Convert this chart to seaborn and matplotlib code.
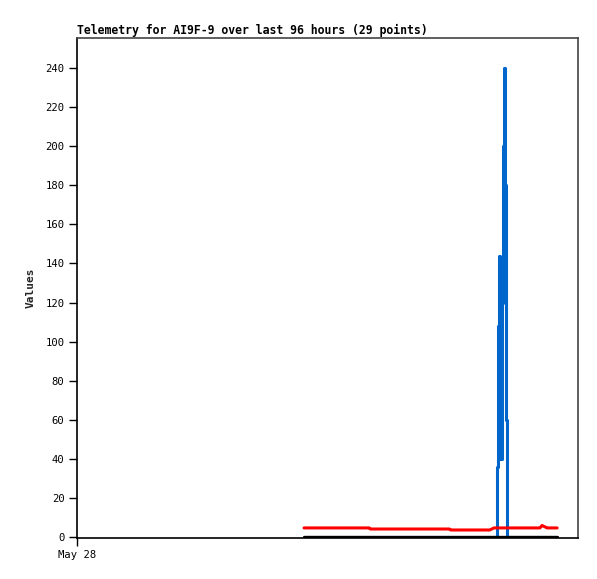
import matplotlib
matplotlib.use("Agg")
import matplotlib.pyplot as plt
import seaborn as sns
import pandas as pd

# hours since May 28 00:00
red_hours = [43.5, 56.0, 56.2, 71.4, 71.6, 79.1, 79.9, 88.7, 89.1, 89.5, 90.1, 92.0]
red_vals = [4.75, 4.75, 4.2, 4.2, 3.7, 3.7, 4.75, 4.75, 6.0, 5.5, 4.75, 4.75]

blue_hours = [43.5, 80.45, 80.65, 80.85, 81.1, 81.4, 81.6, 81.75, 81.95, 82.25, 82.45, 92.0]
blue_vals = [0, 36, 108, 144, 40, 120, 200, 240, 180, 60, 0, 0]

black_hours = [43.5, 92.0]
black_vals = [0, 0]

yticks = list(range(0, 241, 20))
xtick_labels = ["May 28"]

blue_df = pd.DataFrame({"hours": blue_hours, "value": blue_vals})
red_df = pd.DataFrame({"hours": red_hours, "value": red_vals})
black_df = pd.DataFrame({"hours": black_hours, "value": black_vals})

sns.set_style("white")
plt.rcParams["font.family"] = ["DejaVu Sans Mono", "DejaVu Sans"]
plt.rcParams["text.color"] = "black"
plt.rcParams["xtick.color"] = "black"
plt.rcParams["ytick.color"] = "black"

fig = plt.figure(figsize=(5.97, 5.79), dpi=100)
ax = fig.add_axes([77 / 597, 41 / 579, 501 / 597, 500 / 579])

sns.lineplot(data=blue_df, x="hours", y="value", color="#0066cc", linewidth=2.2,
             drawstyle="steps-post", estimator=None, sort=False, ax=ax)
sns.lineplot(data=red_df, x="hours", y="value", color="#ff0000", linewidth=2.2,
             estimator=None, sort=False, ax=ax)
sns.lineplot(data=black_df, x="hours", y="value", color="#000000", linewidth=2.4,
             estimator=None, sort=False, ax=ax, zorder=5)

ax.set_xlim(0, 96)
ax.set_ylim(-0.4, 255.3)
ax.set_yticks(yticks)
ax.set_yticklabels([str(t) for t in yticks], fontsize=7.6)
ax.set_xticks([0])
ax.set_xticklabels(xtick_labels, fontsize=7.6)
ax.tick_params(axis="both", direction="out", length=6, width=1,
               left=True, bottom=True, pad=3)
ax.set_xlabel("")
ax.set_ylabel("Values", fontsize=8, fontweight="bold", labelpad=7)
ax.set_title("Telemetry for AI9F-9 over last 96 hours (29 points)", loc="left",
             fontsize=8.3, fontweight="bold", pad=3)

for side in ["left", "bottom"]:
    ax.spines[side].set_color("black")
    ax.spines[side].set_linewidth(1.2)
for side in ["top", "right"]:
    ax.spines[side].set_color("#444444")
    ax.spines[side].set_linewidth(1.2)

fig.savefig("out.png", dpi=100)
